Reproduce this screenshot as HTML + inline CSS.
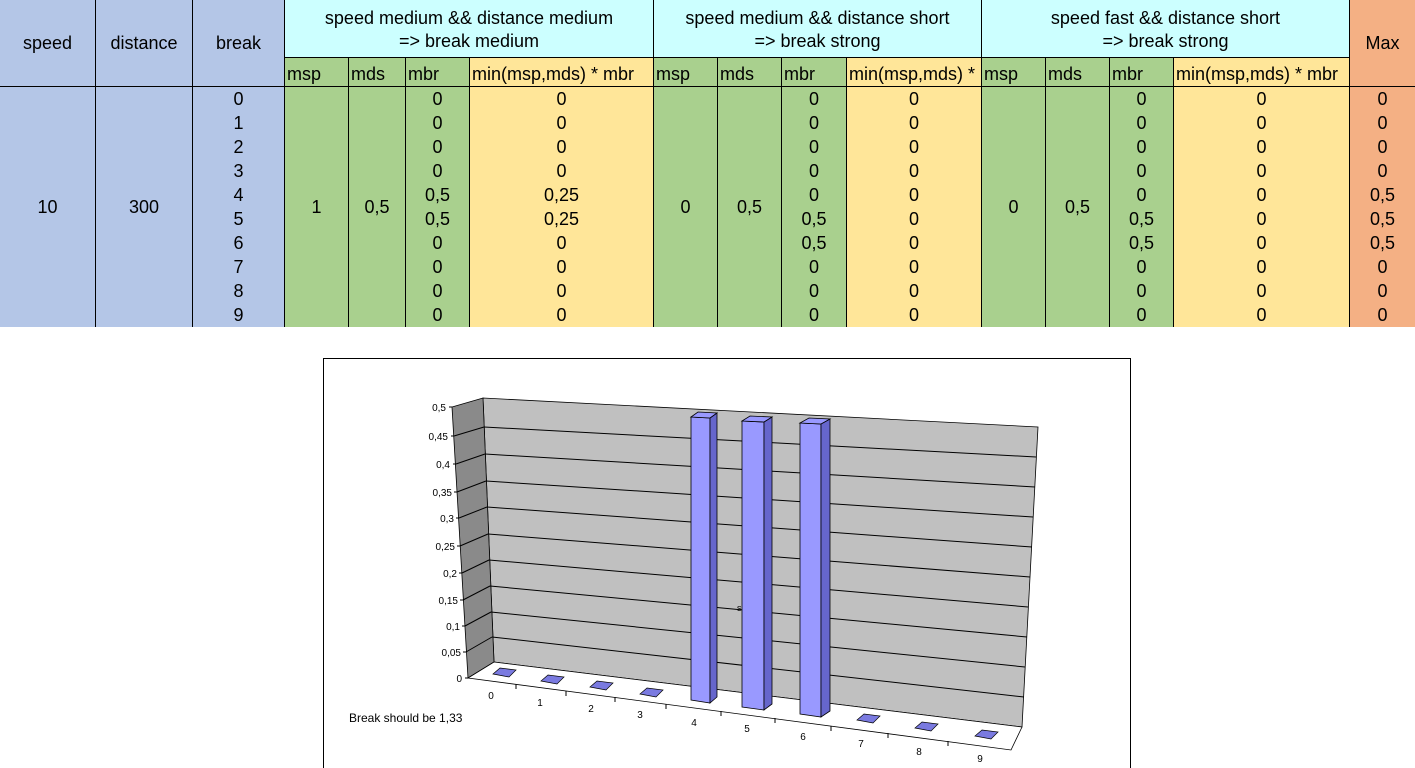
<!DOCTYPE html>
<html><head><meta charset="utf-8"><style>
body{margin:0;width:1415px;height:768px;background:#fff;position:relative;overflow:hidden;font-family:"Liberation Sans",Arial,sans-serif;}
.c{position:absolute;box-sizing:border-box;border-right:1px solid #000;overflow:hidden;white-space:nowrap;font-size:18px;color:#000;}
.b{background:#b4c6e7}.cy{background:#ccffff}.g{background:#a9d08e}.y{background:#ffe699}.o{background:#f4b084}
.ctr{display:flex;align-items:center;justify-content:center;text-align:center}
.sub{top:57px;height:30px;border-top:1px solid #000;border-bottom:1px solid #000;padding:6px 0 0 2px;line-height:20px}
.col{top:87px;height:240px;text-align:center;line-height:24px;padding-top:0}
</style></head><body>
<!-- left blue -->
<div class="c b ctr" style="left:0;top:0;width:96px;height:87px;border-bottom:1px solid #000">speed</div>
<div class="c b ctr" style="left:96px;top:0;width:97px;height:87px;border-bottom:1px solid #000">distance</div>
<div class="c b ctr" style="left:193px;top:0;width:92px;height:87px;border-bottom:1px solid #000">break</div>
<div class="c b ctr" style="left:0;top:87px;width:96px;height:240px">10</div>
<div class="c b ctr" style="left:96px;top:87px;width:97px;height:240px">300</div>
<div class="c b col" style="left:193px;width:92px">0<br>1<br>2<br>3<br>4<br>5<br>6<br>7<br>8<br>9</div>
<!-- group headers -->
<div class="c cy ctr" style="left:285px;top:0;width:369px;height:57px;line-height:23px;padding-top:2px">speed medium &amp;&amp; distance medium<br>=&gt; break medium</div>
<div class="c cy ctr" style="left:654px;top:0;width:328px;height:57px;line-height:23px;padding-top:2px">speed medium &amp;&amp; distance short<br>=&gt; break strong</div>
<div class="c cy ctr" style="left:982px;top:0;width:368px;height:57px;line-height:23px;padding-top:2px">speed fast &amp;&amp; distance short<br>=&gt; break strong</div>
<div class="c o ctr" style="left:1350px;top:0;width:65px;height:87px;border-bottom:1px solid #000;border-right:none">Max</div>
<!-- group 1 -->
<div class="c g sub" style="left:285px;width:64px">msp</div>
<div class="c g sub" style="left:349px;width:57px">mds</div>
<div class="c g sub" style="left:406px;width:64px">mbr</div>
<div class="c y sub" style="left:470px;width:184px">min(msp,mds) * mbr</div>
<div class="c g ctr" style="left:285px;top:87px;width:64px;height:240px">1</div>
<div class="c g ctr" style="left:349px;top:87px;width:57px;height:240px">0,5</div>
<div class="c g col" style="left:406px;width:64px">0<br>0<br>0<br>0<br>0,5<br>0,5<br>0<br>0<br>0<br>0</div>
<div class="c y col" style="left:470px;width:184px">0<br>0<br>0<br>0<br>0,25<br>0,25<br>0<br>0<br>0<br>0</div>
<!-- group 2 -->
<div class="c g sub" style="left:654px;width:64px">msp</div>
<div class="c g sub" style="left:718px;width:64px">mds</div>
<div class="c g sub" style="left:782px;width:65px">mbr</div>
<div class="c y sub" style="left:847px;width:135px">min(msp,mds) * mbr</div>
<div class="c g ctr" style="left:654px;top:87px;width:64px;height:240px">0</div>
<div class="c g ctr" style="left:718px;top:87px;width:64px;height:240px">0,5</div>
<div class="c g col" style="left:782px;width:65px">0<br>0<br>0<br>0<br>0<br>0,5<br>0,5<br>0<br>0<br>0</div>
<div class="c y col" style="left:847px;width:135px">0<br>0<br>0<br>0<br>0<br>0<br>0<br>0<br>0<br>0</div>
<!-- group 3 -->
<div class="c g sub" style="left:982px;width:64px">msp</div>
<div class="c g sub" style="left:1046px;width:64px">mds</div>
<div class="c g sub" style="left:1110px;width:64px">mbr</div>
<div class="c y sub" style="left:1174px;width:176px">min(msp,mds) * mbr</div>
<div class="c g ctr" style="left:982px;top:87px;width:64px;height:240px">0</div>
<div class="c g ctr" style="left:1046px;top:87px;width:64px;height:240px">0,5</div>
<div class="c g col" style="left:1110px;width:64px">0<br>0<br>0<br>0<br>0<br>0,5<br>0,5<br>0<br>0<br>0</div>
<div class="c y col" style="left:1174px;width:176px">0<br>0<br>0<br>0<br>0<br>0<br>0<br>0<br>0<br>0</div>
<div class="c o col" style="left:1350px;width:65px;border-right:none">0<br>0<br>0<br>0<br>0,5<br>0,5<br>0,5<br>0<br>0<br>0</div>

<svg style="position:absolute;left:0;top:0" width="1415" height="768" font-family="Liberation Sans, Arial, sans-serif">
<rect x="323.5" y="358.5" width="807" height="415" fill="#fff" stroke="#000"/>
<!-- back wall -->
<polygon points="483,398 1038,427 1022,727 494,662" fill="#c0c0c0" stroke="#000" stroke-width="0.8"/>
<!-- left wall -->
<polygon points="452,407 483,398 494,662 468,678" fill="#8a8a8a" stroke="#000" stroke-width="0.8"/>
<!-- floor -->
<polygon points="468,678 494,662 1022,727 1011,750" fill="#fff" stroke="#000" stroke-width="0.8"/>
<g stroke="#000" stroke-width="1" fill="none">
<line x1="454" y1="436" x2="484" y2="427"/><line x1="484" y1="427" x2="1036" y2="457"/>
<line x1="456" y1="464" x2="485" y2="454"/><line x1="485" y1="454" x2="1035" y2="487"/>
<line x1="457" y1="492" x2="486" y2="481"/><line x1="486" y1="481" x2="1033" y2="517"/>
<line x1="459" y1="518" x2="487" y2="507"/><line x1="487" y1="507" x2="1032" y2="547"/>
<line x1="460" y1="546" x2="488" y2="534"/><line x1="488" y1="534" x2="1030" y2="577"/>
<line x1="462" y1="573" x2="489" y2="560"/><line x1="489" y1="560" x2="1028" y2="607"/>
<line x1="463" y1="600" x2="490" y2="586"/><line x1="490" y1="586" x2="1027" y2="637"/>
<line x1="465" y1="626" x2="491" y2="612"/><line x1="491" y1="612" x2="1025" y2="667"/>
<line x1="466" y1="652" x2="492" y2="637"/><line x1="492" y1="637" x2="1024" y2="697"/>
<!-- y axis ticks -->
<line x1="449" y1="407" x2="452" y2="407"/><line x1="451" y1="436" x2="454" y2="436"/><line x1="453" y1="464" x2="456" y2="464"/>
<line x1="454" y1="492" x2="457" y2="492"/><line x1="456" y1="518" x2="459" y2="518"/><line x1="457" y1="546" x2="460" y2="546"/>
<line x1="459" y1="573" x2="462" y2="573"/><line x1="460" y1="600" x2="463" y2="600"/><line x1="462" y1="626" x2="465" y2="626"/>
<line x1="463" y1="652" x2="466" y2="652"/><line x1="465" y1="678" x2="468" y2="678"/>
<!-- x ticks -->
<line x1="516" y1="684" x2="516" y2="689"/><line x1="566" y1="691" x2="566" y2="696"/><line x1="615" y1="697" x2="615" y2="702"/>
<line x1="666" y1="704" x2="666" y2="709"/><line x1="721" y1="711" x2="721" y2="716"/><line x1="775" y1="718" x2="775" y2="723"/>
<line x1="831" y1="726" x2="831" y2="731"/><line x1="888" y1="733" x2="888" y2="738"/><line x1="948" y1="741" x2="948" y2="746"/>
</g>
<g font-size="10" fill="#000" text-anchor="end">
<text x="446" y="411">0,5</text><text x="448" y="440">0,45</text><text x="450" y="468">0,4</text><text x="452" y="496">0,35</text>
<text x="454" y="522">0,3</text><text x="455" y="550">0,25</text><text x="457" y="577">0,2</text><text x="458" y="604">0,15</text>
<text x="460" y="630">0,1</text><text x="461" y="656">0,05</text><text x="462" y="682">0</text>
</g>
<g font-size="10" fill="#000" text-anchor="middle">
<text x="491" y="699">0</text><text x="540" y="706">1</text><text x="591" y="712">2</text><text x="640" y="718">3</text><text x="694" y="726">4</text>
<text x="747" y="732">5</text><text x="803" y="740">6</text><text x="861" y="747">7</text><text x="919" y="755">8</text><text x="980" y="762">9</text>
</g>
<!-- flat bars -->
<g fill="#7a7ae0" stroke="#000" stroke-width="0.7">
<polygon points="493,674 500,668 516,670 509,677"/>
<polygon points="541,681 548,675 564,677 557,684"/>
<polygon points="590,687 597,681 613,683 606,690"/>
<polygon points="640,694 647,688 663,690 656,697"/>
<polygon points="857,720 864,714 880,716 873,723"/>
<polygon points="915,728 922,722 938,724 931,731"/>
<polygon points="975,736 982,730 998,732 991,739"/>
</g>
<!-- tall bars -->
<g stroke="#000" stroke-width="0.8">
<polygon points="691,417 710,418 710,703 691,700" fill="#9999ff"/>
<polygon points="710,418 717,413 717,697 710,703" fill="#6666cc"/>
<polygon points="691,417 698,412 717,413 710,418" fill="#9999ff"/>
<polygon points="742,421 764,422 764,710 742,707" fill="#9999ff"/>
<polygon points="764,422 772,417 772,704 764,710" fill="#6666cc"/>
<polygon points="742,421 750,416 772,417 764,422" fill="#9999ff"/>
<polygon points="800,423 821,424 821,717 800,714" fill="#9999ff"/>
<polygon points="821,424 830,419 830,711 821,717" fill="#6666cc"/>
<polygon points="800,423 809,418 830,419 821,424" fill="#9999ff"/>
</g>
<text x="737" y="611" font-size="9">s</text>
<text x="349" y="722" font-size="12">Break should be 1,33</text>
</svg>
</body></html>
